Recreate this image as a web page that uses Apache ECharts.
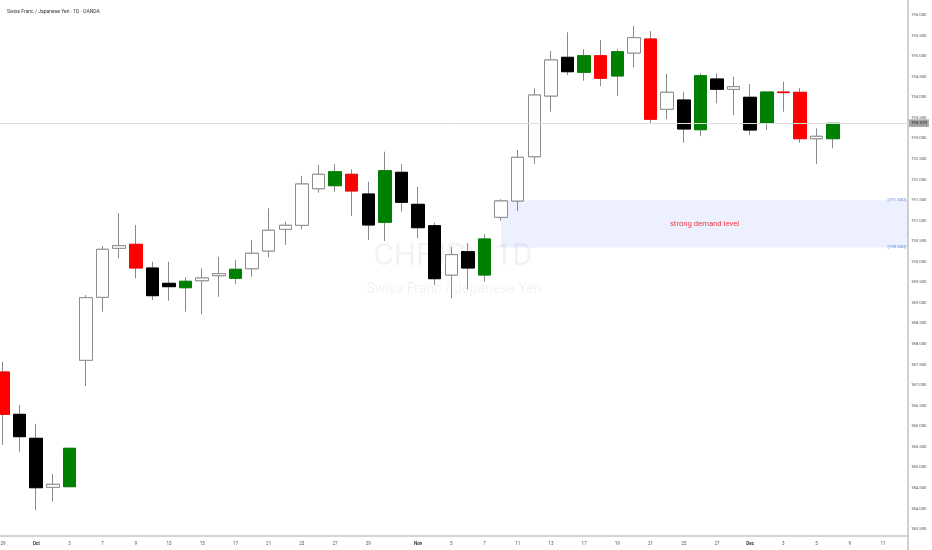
<!DOCTYPE html>
<html>
<head>
<meta charset="utf-8">
<script src="https://cdn.jsdelivr.net/npm/echarts@6/dist/echarts.min.js"></script>
<style>html,body{margin:0;padding:0;background:#fff}#chart{width:932px;height:550px}</style>
</head>
<body>
<div id="chart"></div>
<script>
const dates = ['2025-09-29','2025-09-30',
 '2025-10-01','2025-10-02','2025-10-03','2025-10-06','2025-10-07','2025-10-08','2025-10-09','2025-10-10',
 '2025-10-13','2025-10-14','2025-10-15','2025-10-16','2025-10-17','2025-10-20','2025-10-21','2025-10-22','2025-10-23','2025-10-24',
 '2025-10-27','2025-10-28','2025-10-29','2025-10-30','2025-10-31',
 '2025-11-03','2025-11-04','2025-11-05','2025-11-06','2025-11-07','2025-11-10','2025-11-11','2025-11-12','2025-11-13','2025-11-14',
 '2025-11-17','2025-11-18','2025-11-19','2025-11-20','2025-11-21','2025-11-24','2025-11-25','2025-11-26','2025-11-27','2025-11-28',
 '2025-12-01','2025-12-02','2025-12-03','2025-12-04','2025-12-05','2025-12-08','2025-12-09','2025-12-10','2025-12-11','2025-12-12'];

const open  = [187.318,186.289,185.706,184.514,184.529,187.603,189.135,190.326,190.424,189.847,
               189.475,189.368,189.538,189.660,189.597,189.830,190.261,190.788,190.886,191.776,
               191.849,192.126,191.647,190.959,192.175,191.396,190.876,189.677,190.244,189.677,
               191.080,191.477,192.554,194.030,194.971,194.607,195.010,194.517,195.076,195.416,
               193.707,193.933,193.211,194.444,194.193,193.999,193.366,194.127,194.120,192.992,192.992];
const close = [186.289,185.745,184.504,184.587,185.463,189.125,190.302,190.390,189.847,189.174,
               189.393,189.524,189.604,189.709,189.816,190.205,190.764,190.886,191.890,192.126,
               192.189,191.720,190.893,192.214,191.445,190.827,189.587,190.171,189.847,190.553,
               191.477,192.539,194.054,194.906,194.621,195.010,194.461,195.107,195.448,193.464,
               194.120,193.228,194.524,194.193,194.256,193.203,194.127,194.112,192.992,193.050,193.366];
const low   = [185.543,185.380,183.962,184.164,184.520,186.978,188.785,190.083,189.597,189.069,
               189.052,188.785,188.721,189.149,189.458,189.636,190.107,190.407,190.788,191.678,
               191.703,191.112,190.528,190.504,191.216,190.570,189.434,189.110,189.329,189.514,
               191.000,191.233,192.376,193.648,194.541,194.402,194.273,194.030,194.728,193.366,
               193.464,192.894,193.057,193.853,193.568,193.082,193.203,193.648,192.894,192.376,192.758];
const high  = [187.561,186.516,186.054,184.837,185.470,189.191,190.382,191.178,190.893,190.000,
               190.000,189.621,189.840,190.122,190.042,190.528,191.299,190.973,192.085,192.352,
               192.376,192.248,191.946,192.676,192.376,191.824,190.949,190.365,190.448,190.667,
               191.520,192.717,194.217,195.125,195.579,195.166,195.392,195.170,195.732,195.611,
               194.565,194.135,194.582,194.582,194.500,194.322,194.130,194.378,194.217,193.245,193.370];
const candleColors = ['red','black','black','white','green','white','white','white','red','black',
               'black','green','white','white','green','white','white','white','white','white',
               'green','red','black','green','black','black','black','white','black','green',
               'white','white','white','white','black','green','red','green','white','red',
               'white','black','green','black','white','black','green','red','red','white','green'];

const tickDates = ['2025-09-29','2025-10-01','2025-10-03','2025-10-07','2025-10-09','2025-10-13','2025-10-15','2025-10-17',
 '2025-10-21','2025-10-23','2025-10-27','2025-10-29','2025-11-03','2025-11-05','2025-11-07','2025-11-11','2025-11-13',
 '2025-11-17','2025-11-19','2025-11-21','2025-11-25','2025-11-27','2025-12-01','2025-12-03','2025-12-05','2025-12-09','2025-12-11'];
const tickTexts = ['29','Oct','3','7','9','13','15','17','21','23','27','29','Nov','5','7','11','13','17','19','21','25','27','Dec','3','5','9','11'];
const monthTicks = ['Oct','Nov','Dec'];

const zoneStart = '2025-11-10';
const zoneTop = 191.496;
const zoneBottom = 190.346;
const zoneText = 'strong demand level';
const titleText = 'Swiss Franc / Japanese Yen · 1D · OANDA';
const watermarkMain = 'CHFJPY, 1D';
const watermarkSub = 'Swiss Franc / Japanese Yen';

const palette = {
  red:   {fill: '#ff0000', border: '#ff0000'},
  black: {fill: '#000000', border: '#000000'},
  green: {fill: '#008000', border: '#008000'},
  white: {fill: '#ffffff', border: '#8e8e8e'}
};
const FONT = 'Roboto, "Liberation Sans", sans-serif';

const wickData = open.map((o, i) => ({
  value: [o, close[i], low[i], high[i]],
  itemStyle: {color: 'transparent', color0: 'transparent', borderColor: '#8a8a8a', borderColor0: '#8a8a8a'}
}));
const bodyData = open.map((o, i) => {
  const c = palette[candleColors[i]];
  return {
    value: [o, close[i], Math.min(o, close[i]), Math.max(o, close[i])],
    itemStyle: {color: c.fill, color0: c.fill, borderColor: c.border, borderColor0: c.border}
  };
});
const lastClose = close[close.length - 1];

const chart = echarts.init(document.getElementById('chart'), null, {renderer: 'canvas'});
chart.setOption({
  animation: false,
  backgroundColor: '#ffffff',
  title: {
    text: titleText, left: 2, top: 4,
    textStyle: {fontSize: 5, fontWeight: 'normal', color: '#333', fontFamily: FONT}
  },
  graphic: [
    {type: 'text', z: -5, style: {text: watermarkMain, x: 453, y: 257, align: 'center', verticalAlign: 'middle',
      fontSize: 31, fontFamily: FONT, fill: 'rgba(0,0,0,0.05)'}},
    {type: 'text', z: -5, style: {text: watermarkSub, x: 454, y: 289, align: 'center', verticalAlign: 'middle',
      fontSize: 14, fontFamily: FONT, fill: 'rgba(0,0,0,0.055)'}}
  ],
  grid: {left: -5.3, right: 24.1, top: -5.56, bottom: 0.44, containLabel: false, outerBoundsMode: 'none'},
  xAxis: {
    type: 'category', data: dates, boundaryGap: true, offset: -13.56,
    axisLine: {show: true, onZero: false, lineStyle: {color: '#c6c6c6', width: 1.6}},
    axisTick: {show: false},
    splitLine: {show: false},
    axisLabel: {
      margin: 5, fontSize: 4.6, color: '#555', fontFamily: FONT, hideOverlap: false,
      interval: (idx, val) => tickDates.indexOf(val) >= 0,
      formatter: (val) => {
        const t = tickTexts[tickDates.indexOf(val)];
        return monthTicks.indexOf(t) >= 0 ? '{m|' + t + '}' : t;
      },
      rich: {m: {fontSize: 4.6, fontWeight: 'bold', color: '#333', fontFamily: FONT}}
    }
  },
  yAxis: {
    type: 'value', position: 'right', min: 183, max: 196.5, interval: 0.5, scale: true,
    axisLine: {show: true, lineStyle: {color: '#c6c6c6', width: 1.6}},
    axisTick: {show: false},
    splitLine: {show: false},
    axisLabel: {
      margin: 3, fontSize: 4.3, color: '#555', fontFamily: FONT,
      showMinLabel: false, showMaxLabel: false,
      formatter: (v) => v.toFixed(3)
    }
  },
  series: [
    {
      type: 'candlestick', name: 'wick', data: wickData, barWidth: 13, z: 3,
      emphasis: {disabled: true},
      markArea: {
        silent: true,
        itemStyle: {color: 'rgba(41,98,255,0.085)'},
        label: {show: true, position: 'inside', color: '#f23645', fontSize: 7.7, fontFamily: FONT},
        data: [[{xAxis: zoneStart, yAxis: zoneTop, name: zoneText}, {yAxis: zoneBottom}]]
      },
      markLine: {
        silent: true, symbol: ['none', 'none'],
        lineStyle: {color: 'rgba(0,0,0,0)', width: 0},
        label: {show: true, position: 'insideEnd', distance: 2, fontSize: 4.4, color: '#5a7fd0', fontFamily: FONT,
          formatter: (p) => '[' + p.value.toFixed(3) + ']'},
        data: [{yAxis: zoneTop}, {yAxis: zoneBottom}]
      }
    },
    {
      type: 'candlestick', name: 'body', data: bodyData, barWidth: 13, z: 4,
      emphasis: {disabled: true},
      markLine: {
        silent: true, symbol: ['none', 'none'],
        lineStyle: {color: '#dedede', width: 1, type: 'solid'},
        label: {show: true, position: 'end', distance: 1, fontSize: 4.4, color: '#1a1a1a', fontFamily: FONT,
          backgroundColor: '#a3a3a3', padding: [2, 2, 1.5, 2],
          formatter: (p) => p.value.toFixed(3)},
        data: [{yAxis: lastClose}]
      }
    }
  ]
});
</script>
</body>
</html>
